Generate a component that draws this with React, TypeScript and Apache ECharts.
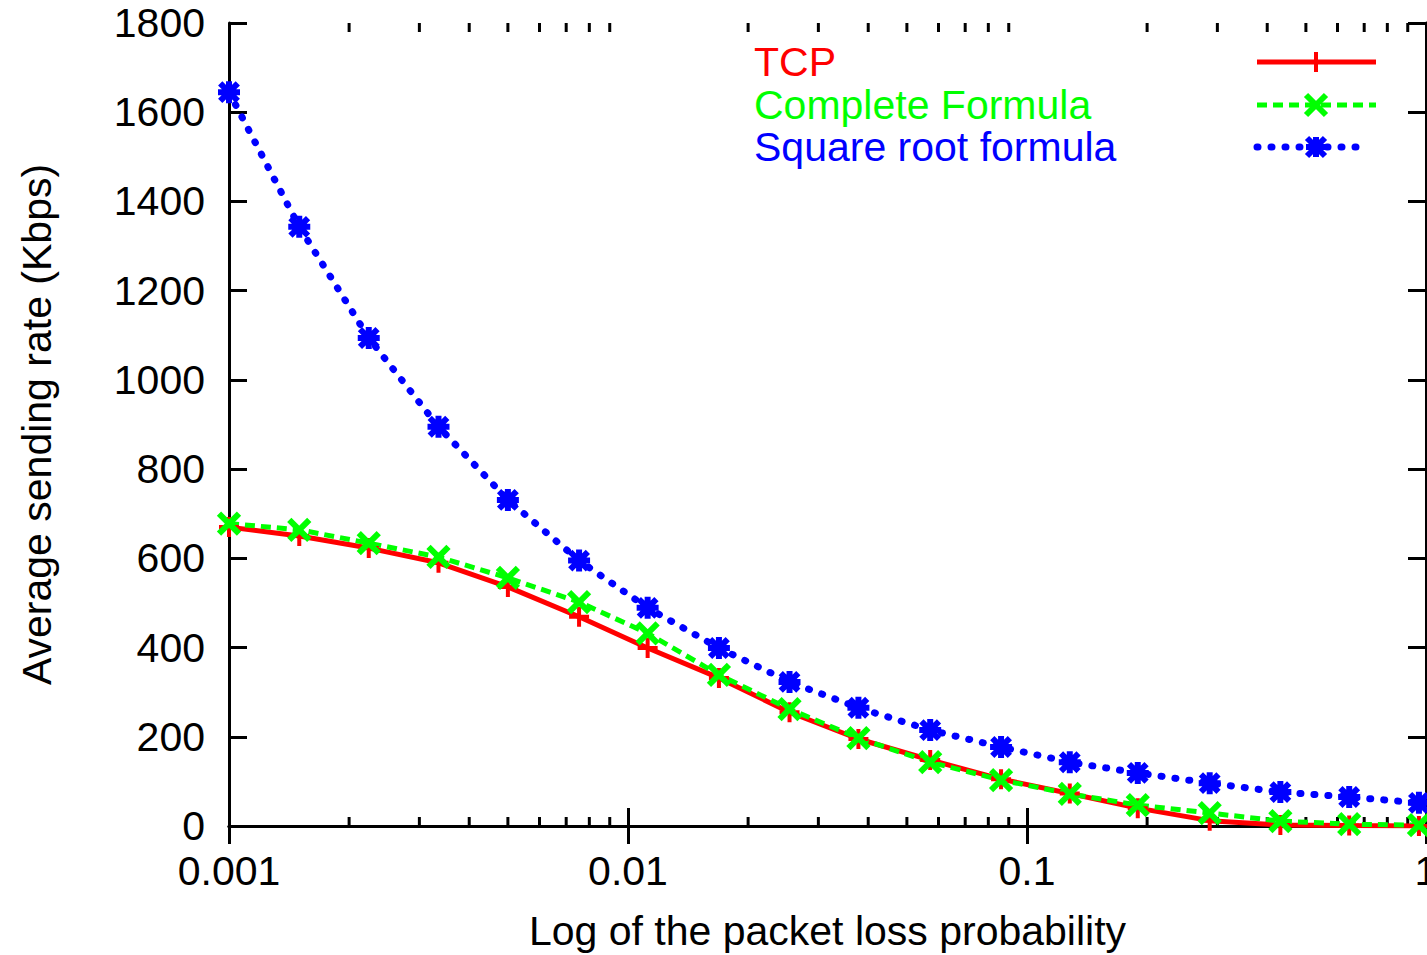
import React, { useEffect, useRef } from "react";
import * as echarts from "echarts";

// Packet loss probability (x, log scale)
const pLoss = [0.001, 0.0015, 0.00224, 0.00335, 0.005, 0.00754, 0.0112, 0.0169, 0.0254, 0.0378, 0.0572, 0.0861, 0.128, 0.1895, 0.287, 0.4315, 0.642, 0.96];
// Average sending rate (Kbps)
const tcp = [670, 650, 623, 590, 536, 469, 399, 332, 255, 195, 148, 105, 73, 40, 12, 2, 1, 0];
const completeFormula = [678, 664, 634, 603, 556, 502, 432, 339, 262, 197, 143, 103, 72, 47, 29, 11, 4, 2];
const sqrtFormula = [1645, 1343, 1094, 895, 731, 595, 489, 399, 323, 265, 215, 177, 143, 119, 96, 76, 65, 52];

const seriesNames = ["TCP", "Complete Formula", "Square root formula"];
const seriesColors = ["#ff0000", "#00ff00", "#0000ff"];
const xMajorLabels = ["0.001", "0.01", "0.1", "1"];
const minorTicks = [
  0.002, 0.003, 0.004, 0.005, 0.006, 0.007, 0.008, 0.009,
  0.02, 0.03, 0.04, 0.05, 0.06, 0.07, 0.08, 0.09,
  0.2, 0.3, 0.4, 0.5, 0.6, 0.7, 0.8, 0.9,
];

const FONT = "'Liberation Sans', Arial, Helvetica, sans-serif";
const FS = 41;

const PLUS = "path://M0,5L10,5M5,0L5,10";
const CROSS = "path://M0,0L10,10M10,0L0,10";
const STAR = "path://M0,5L10,5M5,0L5,10M1,1L9,9M9,1L1,9";

export default function App() {
  const ref = useRef<HTMLDivElement>(null);
  useEffect(() => {
    if (!ref.current) return;
    const chart = echarts.init(ref.current, undefined, { renderer: "svg" });

    const lineSeries = (name: string, data: number[], color: string, lineStyle: any, symbol: string, size: number, bw: number) => ({
      type: "line",
      name,
      data: pLoss.map((p, i) => [p, data[i]]),
      xAxisIndex: 0,
      yAxisIndex: 0,
      symbol,
      symbolSize: size,
      showAllSymbol: true,
      itemStyle: { color, borderColor: color, borderWidth: bw },
      lineStyle: { color, ...lineStyle },
      silent: true,
    });

    const legendEls: any[] = [];
    const legendY = [62, 105, 147];
    const sx1 = 1257, sx2 = 1376, mx = 1316;
    seriesNames.forEach((name, i) => {
      const y = legendY[i];
      const c = seriesColors[i];
      legendEls.push({
        type: "text",
        style: { text: name, x: 754, y, fill: c, font: `${FS}px ${FONT}`, textAlign: "left", textVerticalAlign: "middle" },
      });
      let ls: any = { stroke: c, lineWidth: 5 };
      let x2 = sx2;
      if (i === 1) ls = { stroke: c, lineWidth: 5, lineDash: [10, 6] };
      if (i === 2) { ls = { stroke: c, lineWidth: 7, lineDash: [1, 13], lineCap: "round" }; x2 = 1369; }
      legendEls.push({ type: "line", shape: { x1: sx1, y1: y, x2, y2: y }, style: ls });
      const ms = { stroke: c, lineWidth: i === 0 ? 4 : i === 1 ? 6 : 6 };
      const h = 10;
      const segs: number[][] = [];
      if (i === 0) { segs.push([mx - h, y, mx + h, y], [mx, y - h, mx, y + h]); }
      if (i === 1) { segs.push([mx - h, y - h, mx + h, y + h], [mx + h, y - h, mx - h, y + h]); }
      if (i === 2) {
        segs.push([mx - h, y, mx + h, y], [mx, y - h, mx, y + h], [mx - 9, y - 9, mx + 9, y + 9], [mx + 9, y - 9, mx - 9, y + 9]);
      }
      segs.forEach((s) => legendEls.push({ type: "line", shape: { x1: s[0], y1: s[1], x2: s[2], y2: s[3] }, style: ms }));
    });

    const axisCommon = {
      axisLine: { show: true, lineStyle: { color: "#000", width: 3 } },
      axisTick: { show: true, inside: true, length: 18, lineStyle: { color: "#000", width: 3 } },
      splitLine: { show: false },
    };

    chart.setOption({
      animation: false,
      backgroundColor: "#fff",
      grid: { left: 229, right: 1, top: 23, bottom: 129, containLabel: false, outerBoundsMode: "none" },
      xAxis: [
        {
          type: "log",
          logBase: 10,
          min: 0.001,
          max: 1,
          position: "bottom",
          ...axisCommon,
          axisLabel: {
            show: true,
            margin: 24,
            color: "#000",
            fontSize: FS,
            fontFamily: FONT,
            formatter: (v: number) => {
              const idx = Math.round(Math.log10(v) + 3);
              return xMajorLabels[idx] ?? String(v);
            },
          },
          name: "Log of the packet loss probability",
          nameLocation: "middle",
          nameGap: 84,
          nameTextStyle: { color: "#000", fontSize: FS, fontFamily: FONT },
        },
        {
          type: "log",
          logBase: 10,
          min: 0.001,
          max: 1,
          position: "top",
          ...axisCommon,
          axisLabel: { show: false },
        },
      ],
      yAxis: [
        {
          type: "value",
          min: 0,
          max: 1800,
          interval: 200,
          position: "left",
          ...axisCommon,
          axisLabel: {
            show: true,
            margin: 24,
            color: "#000",
            fontSize: FS,
            fontFamily: FONT,
            formatter: (v: number) => String(v),
          },
          name: "Average sending rate (Kbps)",
          nameLocation: "middle",
          nameGap: 172,
          nameTextStyle: { color: "#000", fontSize: FS, fontFamily: FONT },
        },
        {
          type: "value",
          min: 0,
          max: 1800,
          interval: 200,
          position: "right",
          ...axisCommon,
          axisLabel: { show: false },
        },
      ],
      graphic: legendEls,
      series: [
        {
          type: "custom",
          xAxisIndex: 0,
          yAxisIndex: 0,
          silent: true,
          clip: false,
          data: minorTicks.map((v) => [v, 0]),
          renderItem: (params: any, api: any) => {
            const x = api.value(0);
            const pb = api.coord([x, 0]);
            const pt = api.coord([x, 1800]);
            const st = { stroke: "#000", lineWidth: 3 };
            return {
              type: "group",
              children: [
                { type: "line", shape: { x1: pb[0], y1: pb[1], x2: pb[0], y2: pb[1] - 9 }, style: st },
                { type: "line", shape: { x1: pt[0], y1: pt[1], x2: pt[0], y2: pt[1] + 9 }, style: st },
              ],
            };
          },
        },
        lineSeries(seriesNames[0], tcp, seriesColors[0], { width: 5, type: "solid" }, PLUS, 20, 4),
        lineSeries(seriesNames[1], completeFormula, seriesColors[1], { width: 5, type: [10, 6] }, CROSS, 20, 6),
        lineSeries(seriesNames[2], sqrtFormula, seriesColors[2], { width: 7, type: [1, 13], cap: "round" }, STAR, 22, 6),
      ],
    });
    return () => chart.dispose();
  }, []);

  return (
    <div
      ref={ref}
      style={{ position: "fixed", left: 0, top: 0, width: 1427, height: 955, background: "#fff" }}
    />
  );
}
